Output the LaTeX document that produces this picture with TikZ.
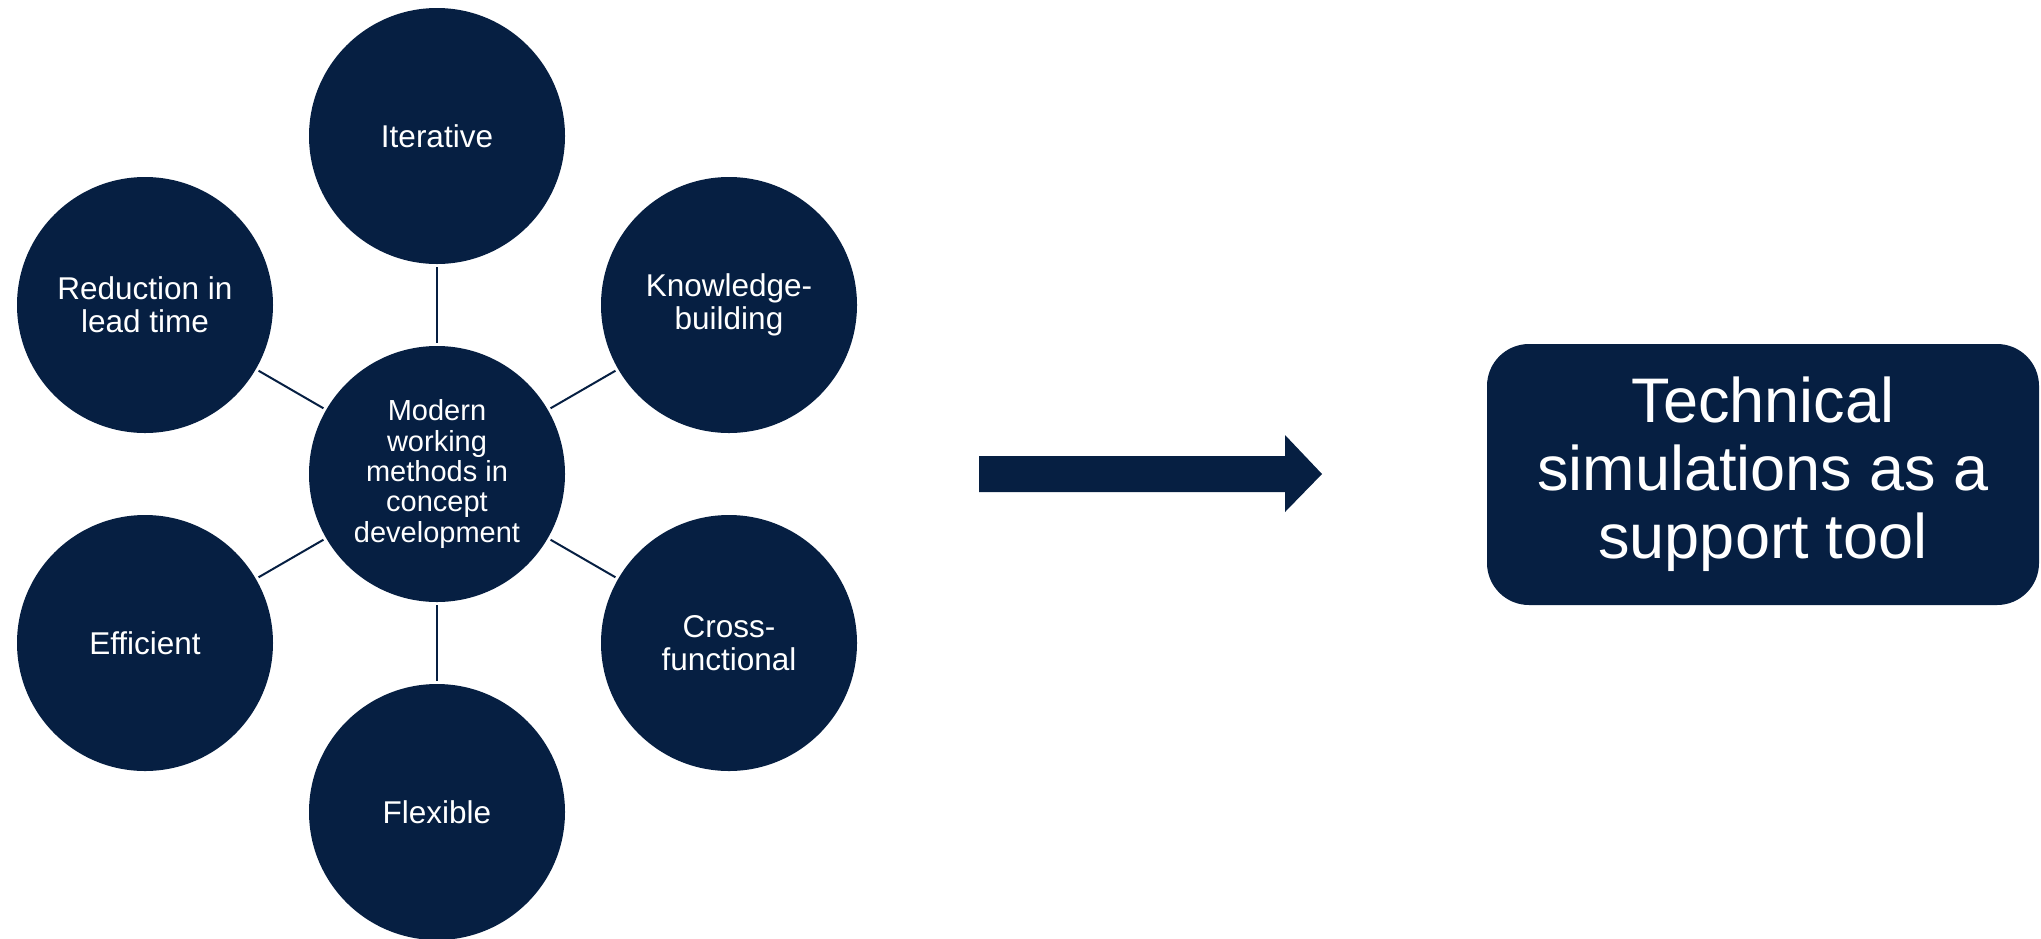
\documentclass[tikz,border=0pt]{standalone}
\usepackage{fontspec}
\setmainfont{Liberation Sans}
\definecolor{navy}{HTML}{061F42}
\begin{document}
\begin{tikzpicture}[x=1pt,y=-1pt,
  hub/.style={circle, fill=navy, text=white, minimum size=256pt, inner sep=0pt,
    align=center, font=\fontsize{29}{30.3}\selectfont},
  spoke/.style={circle, fill=navy, text=white, minimum size=256pt, inner sep=0pt,
    align=center, font=\fontsize{31.5}{33}\selectfont},
  link/.style={draw=navy, line width=2pt, shorten <=3pt, shorten >=3pt},
  resultbox/.style={fill=navy, text=white, rounded corners=42pt, align=center,
    font=\fontsize{63}{68}\selectfont}]
\useasboundingbox (0,0) rectangle (2041,938);

% central idea and its six qualities
\node[hub] (center) at (437,474) {Modern\\working\\methods in\\concept\\development};
\node[spoke] (iter)  at (437,136) {Iterative};
\node[spoke] (know)  at (729,305) {Knowledge-\\building};
\node[spoke] (cross) at (729,643) {Cross-\\functional};
\node[spoke] (flex)  at (437,812) {Flexible};
\node[spoke] (eff)   at (145,643) {Efficient};
\node[spoke] (red)   at (145,305) {Reduction in\\lead time};

\foreach \s in {iter,know,cross,flex,eff,red}
  \draw[link] (center) -- (\s);

% block arrow
\fill[navy] (979,456) -- (1285,456) -- (1285,435) -- (1322,474)
  -- (1285,512) -- (1285,492) -- (979,492) -- cycle;

% result box
\fill[navy, rounded corners=42pt] (1487,344) rectangle (2039,605);
\node[text=white, align=center, font=\fontsize{63}{68}\selectfont] (result) at (1763,474.5)
  {Technical\\simulations as a\\support tool};
\end{tikzpicture}
\end{document}
